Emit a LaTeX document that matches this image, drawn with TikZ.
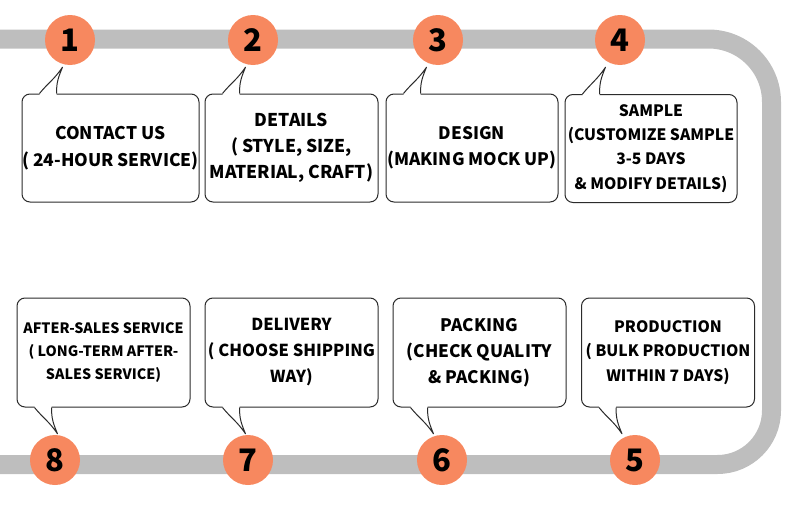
\documentclass[tikz,border=0pt]{standalone}
\usepackage{fontspec}
\setmainfont{Noto Sans CJK SC}
\usepackage{tikz}
\usetikzlibrary{calc}
\definecolor{stepOrange}{HTML}{F7885F}
\definecolor{stepTrack}{HTML}{BEBEBE}
\definecolor{stepInk}{HTML}{2B2B2B}
\tikzset{
  step diagram/.style={font=\bfseries, text=black, line join=round},
  step track/.style={draw=stepTrack, line width=19pt},
  step dot/.style={circle, fill=stepOrange, minimum size=50pt, inner sep=0pt,
    font=\fontsize{31}{31}\selectfont\bfseries},
  step box/.style={draw=stepInk, fill=white, line width=1pt, rounded corners=8pt,
    align=center, inner sep=0pt, minimum width=173pt, minimum height=108pt,
    font=\fontsize{17.2}{26}\selectfont\bfseries},
  step small/.style={font=\fontsize{15.7}{24.3}\selectfont\bfseries},
  step tail/.style={draw=stepInk, line width=1pt}
}

\begin{document}
\begin{tikzpicture}[step diagram,x=1pt,y=-1pt]
\useasboundingbox (0,0) rectangle (790,506);
% track
\draw[step track] (0,39) [rounded corners=63pt] -- (771.5,39) -- (771.5,250)
  [rounded corners=54pt] -- (771.5,464.5) -- (0,464.5);
% dots
\foreach \n/\x/\y in {1/70/40,2/253/40,3/438/40,4/620/40,5/635/460,6/442/460,7/248/460,8/55/460}
  \node[step dot] (dot\n) at (\x,\y) {\n};
% boxes
\node[step box, minimum width=177pt, font=\fontsize{17.4}{27}\selectfont\bfseries] (box1) at (110.5,148)
  {CONTACT US\\( 24-HOUR SERVICE)};
\node[step box, font=\fontsize{17.6}{26}\selectfont\bfseries] (box2) at (291.5,148)
  {DETAILS\\( STYLE, SIZE,\\MATERIAL, CRAFT)};
\node[step box, minimum width=172pt] (box3) at (472,148) {DESIGN\\(MAKING MOCK UP)};
\node[step box, step small, minimum width=172pt] (box4) at (651,148.5)
  {SAMPLE\\(CUSTOMIZE SAMPLE\\3-5 DAYS\\\& MODIFY DETAILS)};
\node[step box, step small, minimum height=109pt] (box5) at (668,352.5)
  {PRODUCTION\\( BULK PRODUCTION\\WITHIN 7 DAYS)};
\node[step box, minimum height=109pt] (box6) at (479.5,352.5) {PACKING\\(CHECK QUALITY\\\& PACKING)};
\node[step box, minimum height=109pt, font=\fontsize{16.5}{26}\selectfont\bfseries] (box7) at (291.5,352.5)
  {DELIVERY\\( CHOOSE SHIPPING\\WAY)};
\node[step box, minimum height=109pt, font=\fontsize{14.3}{23}\selectfont\bfseries] (box8) at (103.5,352.5)
  {AFTER-SALES SERVICE\\( LONG-TERM AFTER-\\SALES SERVICE)};
% tails
\foreach \b/\c in {box1/dot1,box2/dot2,box3/dot3,box4/dot4}{
  \coordinate (bl) at ($(\b.north west)+(18,0)$);
  \coordinate (br) at ($(\b.north west)+(35,0)$);
  \coordinate (tx) at ($(\b.north west)+(41,0)$);
  \coordinate (tip) at (tx |- \c.south);
  \coordinate (tip) at ($(tip)+(0,2)$);
  \fill[white] ($(bl)+(0,2)$) -- (bl) .. controls +(8,-10) and +(-8,12) .. (tip)
    .. controls +(-4,10) and +(0,-12) .. (br) -- ++(0,2) -- cycle;
  \draw[step tail] (bl) .. controls +(8,-10) and +(-8,12) .. (tip)
    .. controls +(-4,10) and +(0,-12) .. (br);
}
\foreach \b/\c in {box5/dot5,box6/dot6,box7/dot7,box8/dot8}{
  \coordinate (bl) at ($(\b.south west)+(18,0)$);
  \coordinate (br) at ($(\b.south west)+(35,0)$);
  \coordinate (tx) at ($(\b.south west)+(41,0)$);
  \coordinate (tip) at (tx |- \c.north);
  \coordinate (tip) at ($(tip)+(0,-1)$);
  \fill[white] ($(bl)+(0,-2)$) -- (bl) .. controls +(8,10) and +(-8,-12) .. (tip)
    .. controls +(-4,-10) and +(0,12) .. (br) -- ++(0,-2) -- cycle;
  \draw[step tail] (bl) .. controls +(8,10) and +(-8,-12) .. (tip)
    .. controls +(-4,-10) and +(0,12) .. (br);
}
\end{tikzpicture}
\end{document}
